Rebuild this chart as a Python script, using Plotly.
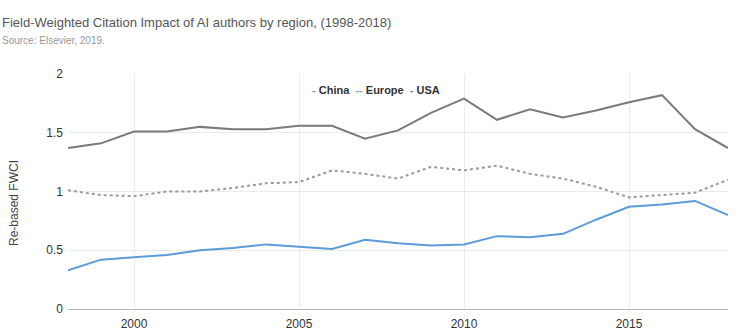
import plotly.graph_objects as go

years = list(range(1998, 2019))
china = [0.33, 0.42, 0.44, 0.46, 0.50, 0.52, 0.55, 0.53, 0.51, 0.59, 0.56,
         0.54, 0.55, 0.62, 0.61, 0.64, 0.76, 0.87, 0.89, 0.92, 0.80]
europe = [1.01, 0.97, 0.96, 1.00, 1.00, 1.03, 1.07, 1.08, 1.18, 1.15, 1.11,
          1.21, 1.18, 1.22, 1.15, 1.11, 1.04, 0.95, 0.97, 0.99, 1.10]
usa = [1.37, 1.41, 1.51, 1.51, 1.55, 1.53, 1.53, 1.56, 1.56, 1.45, 1.52,
       1.67, 1.79, 1.61, 1.70, 1.63, 1.69, 1.76, 1.82, 1.53, 1.37]
x_ticks = [2000, 2005, 2010, 2015]
y_ticks = [0, 0.5, 1, 1.5, 2]
y_tick_labels = ["0", "0.5", "1", "1.5", "2"]

FONT = "Liberation Sans, Arial, sans-serif"
C_CHINA = "#5b9bd9"
C_EUROPE = "#9a9a9a"
C_USA = "#7a7a7a"

fig = go.Figure()
fig.add_trace(go.Scatter(x=years, y=china, mode="lines", name="China",
                         line=dict(color=C_CHINA, width=2)))
fig.add_trace(go.Scatter(x=years, y=europe, mode="lines", name="Europe",
                         line=dict(color=C_EUROPE, width=2, dash="dot")))
fig.add_trace(go.Scatter(x=years, y=usa, mode="lines", name="USA",
                         line=dict(color=C_USA, width=2)))

fig.update_layout(
    width=750, height=336,
    margin=dict(l=68, r=22, t=74, b=27),
    paper_bgcolor="white", plot_bgcolor="white",
    showlegend=False,
    font=dict(family=FONT, size=12, color="#444"),
    xaxis=dict(range=[1998, 2018], tickvals=x_ticks, showgrid=True,
               gridcolor="#ededed", gridwidth=1, zeroline=False,
               showline=True, linecolor="#b8b8b8", linewidth=1,
               ticks="", ticklabelstandoff=4, automargin=False,
               tickfont=dict(size=12, color="#333")),
    yaxis=dict(range=[0, 2], tickvals=y_ticks, ticktext=y_tick_labels,
               showgrid=True, gridcolor="#ebebeb", gridwidth=1,
               zeroline=False, showline=False, ticks="", ticklabelstandoff=4,
               automargin=False,
               tickfont=dict(size=12, color="#333"),
               title=dict(text="Re-based FWCI", standoff=26,
                          font=dict(size=12, color="#444"))),
    annotations=[
        dict(text="Field-Weighted Citation Impact of AI authors by region, (1998-2018)",
             xref="paper", yref="paper", x=-68/660, y=1 + (74-22)/235,
             xanchor="left", yanchor="middle", showarrow=False,
             font=dict(size=13, color="#555")),
        dict(text="Source: Elsevier, 2019.",
             xref="paper", yref="paper", x=-68/660, y=1 + (74-40)/235,
             xanchor="left", yanchor="middle", showarrow=False,
             font=dict(size=10, color="#999")),
        dict(text="Re-based FWCI", textangle=-90,
             xref="paper", yref="paper", x=(14-68)/660, y=(309-203)/235,
             xanchor="center", yanchor="middle", showarrow=False,
             font=dict(size=12, color="#444")),
        dict(text=(f"<b><span style='color:{C_CHINA}'>-</span></b> <b>China</b>  "
                   f"<b><span style='color:{C_EUROPE}'>--</span></b> <b>Europe</b>  "
                   f"<b><span style='color:{C_USA}'>-</span></b> <b>USA</b>"),
             xref="paper", yref="paper", x=(310-68)/660, y=1 - (90-74)/235,
             xanchor="left", yanchor="middle", showarrow=False,
             font=dict(size=11, color="#333")),
    ],
)
fig.update_yaxes(title_text="")

fig.write_html("out.html")
